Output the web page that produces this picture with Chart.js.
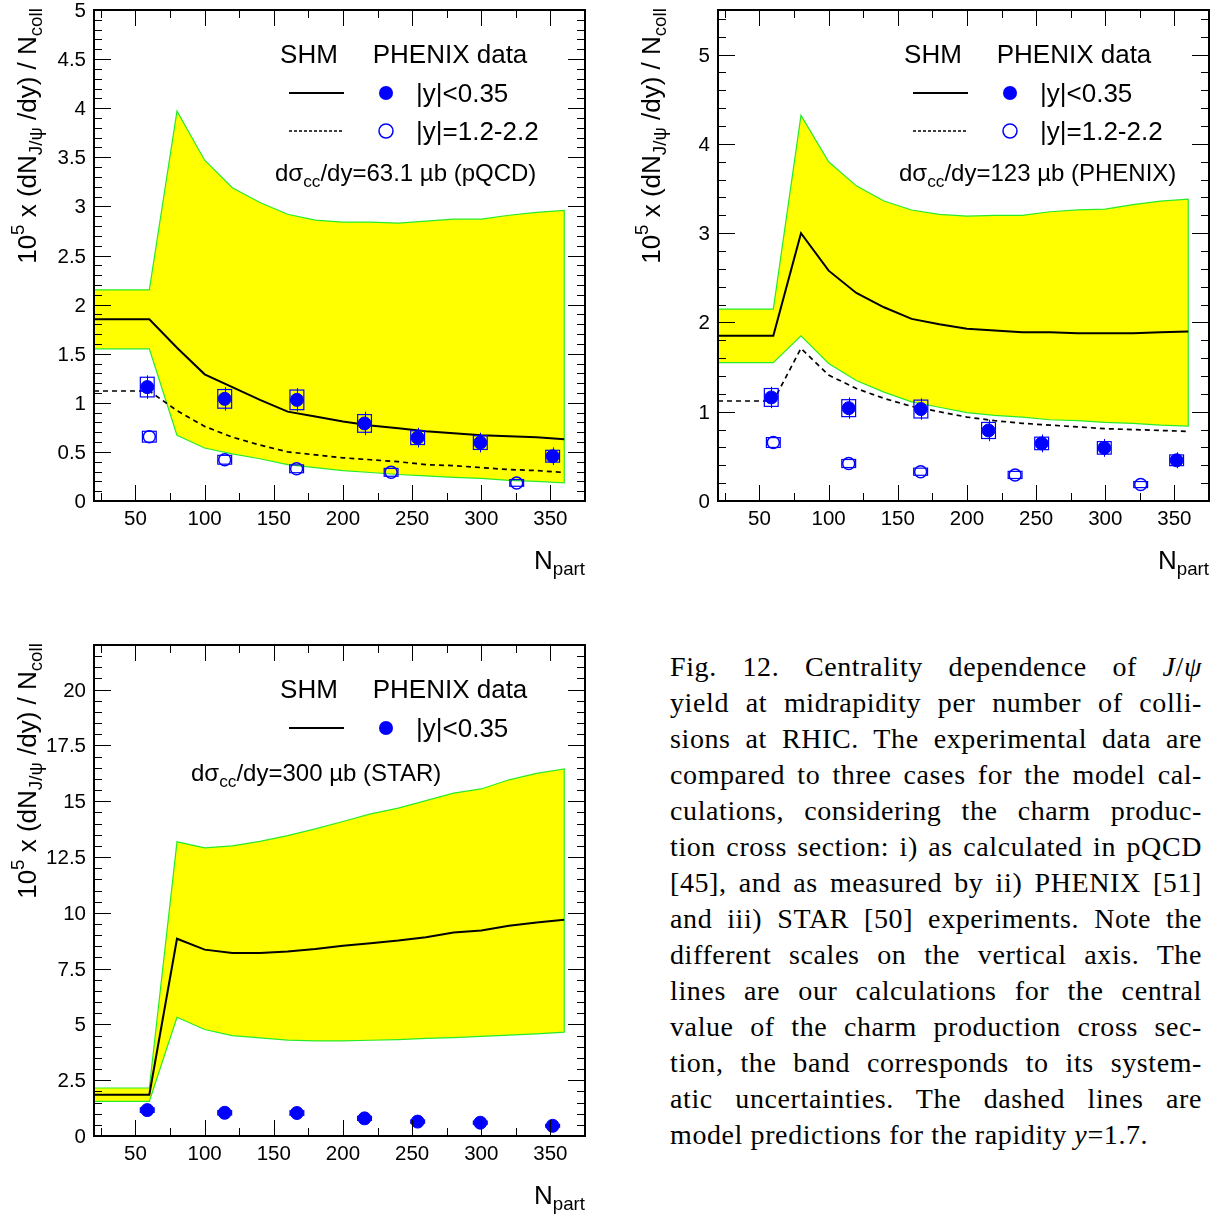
<!DOCTYPE html>
<html>
<head>
<meta charset="utf-8">
<script src="https://cdn.jsdelivr.net/npm/chart.js@4.4.1/dist/chart.umd.min.js"></script>
<style>
  body { margin: 0; background: #fff; width: 1229px; height: 1220px; position: relative; overflow: hidden; }
  canvas.panel { position: absolute; }
  #caption { position: absolute; left: 670px; top: 649px; width: 532px; font-family: "Liberation Serif", serif; font-size: 28px; line-height: 36px; letter-spacing: 0.6px; color: #000; }
  #caption .ln { text-align: justify; text-align-last: justify; white-space: nowrap; }
  #caption .last { text-align-last: left; }
</style>
</head>
<body>
<canvas id="c1" class="panel" width="600" height="600" style="left:0;top:0"></canvas>
<canvas id="c2" class="panel" width="605" height="600" style="left:624px;top:0"></canvas>
<canvas id="c3" class="panel" width="600" height="600" style="left:0;top:635px"></canvas>
<div id="caption">
  <div class="ln">Fig. 12. Centrality dependence of <i>J</i>/<i>ψ</i></div>
  <div class="ln">yield at midrapidity per number of colli-</div>
  <div class="ln">sions at RHIC. The experimental data are</div>
  <div class="ln">compared to three cases for the model cal-</div>
  <div class="ln">culations, considering the charm produc-</div>
  <div class="ln">tion cross section: i) as calculated in pQCD</div>
  <div class="ln">[45], and as measured by ii) PHENIX [51]</div>
  <div class="ln">and iii) STAR [50] experiments. Note the</div>
  <div class="ln">different scales on the vertical axis. The</div>
  <div class="ln">lines are our calculations for the central</div>
  <div class="ln">value of the charm production cross sec-</div>
  <div class="ln">tion, the band corresponds to its system-</div>
  <div class="ln">atic uncertainties. The dashed lines are</div>
  <div class="ln last">model predictions for the rapidity <i>y</i>=1.7.</div>
</div>
<script>
// model curves (SHM), x = Npart
const nPartModel = [20, 60, 80, 100, 120, 140, 160, 180, 200, 220, 240, 260, 280, 300, 320, 340, 360];

// dsigma_cc/dy = 63.1 mub (pQCD)
const pqcdUpper = [2.15, 2.15, 3.97, 3.47, 3.19, 3.04, 2.92, 2.86, 2.84, 2.84, 2.83, 2.85, 2.87, 2.87, 2.91, 2.94, 2.96];
const pqcdLower = [1.55, 1.55, 0.67, 0.54, 0.48, 0.43, 0.37, 0.34, 0.31, 0.29, 0.27, 0.255, 0.24, 0.23, 0.21, 0.2, 0.185];
const pqcdMid = [1.85, 1.85, 1.56, 1.29, 1.16, 1.03, 0.91, 0.86, 0.81, 0.77, 0.74, 0.71, 0.69, 0.67, 0.66, 0.65, 0.63];
const pqcdFwd = [1.12, 1.12, 0.92, 0.76, 0.65, 0.57, 0.5, 0.47, 0.44, 0.42, 0.4, 0.37, 0.36, 0.34, 0.32, 0.31, 0.29];

// dsigma_cc/dy = 123 mub (PHENIX)
const phenixUpper = [2.15, 2.15, 4.32, 3.8, 3.53, 3.36, 3.26, 3.21, 3.19, 3.2, 3.2, 3.24, 3.26, 3.27, 3.32, 3.36, 3.38];
const phenixLower = [1.55, 1.55, 1.85, 1.54, 1.35, 1.22, 1.11, 1.05, 0.99, 0.96, 0.94, 0.91, 0.9, 0.88, 0.87, 0.85, 0.84];
const phenixMid = [1.85, 1.85, 3.0, 2.58, 2.33, 2.17, 2.04, 1.98, 1.93, 1.91, 1.89, 1.89, 1.88, 1.88, 1.88, 1.89, 1.9];
const phenixFwd = [1.12, 1.12, 1.71, 1.41, 1.26, 1.15, 1.06, 1.0, 0.94, 0.9, 0.87, 0.85, 0.83, 0.81, 0.8, 0.79, 0.78];

// dsigma_cc/dy = 300 mub (STAR)
const starUpper = [2.15, 2.15, 13.18, 12.91, 13.0, 13.2, 13.46, 13.76, 14.09, 14.43, 14.69, 15.03, 15.36, 15.55, 15.96, 16.25, 16.45];
const starLower = [1.55, 1.55, 5.32, 4.77, 4.5, 4.4, 4.3, 4.26, 4.26, 4.29, 4.32, 4.37, 4.41, 4.46, 4.52, 4.58, 4.65];
const starMid = [1.85, 1.85, 8.84, 8.35, 8.2, 8.2, 8.27, 8.38, 8.52, 8.64, 8.76, 8.91, 9.12, 9.21, 9.42, 9.57, 9.69];

// PHENIX data, |y|<0.35
const dataMidX = [58.5, 114.5, 166.7, 215.6, 254.0, 299.3, 351.6];
const dataMidY = [1.16, 1.04, 1.03, 0.79, 0.645, 0.595, 0.456];
const dataMidStat = [0.12, 0.12, 0.12, 0.12, 0.10, 0.10, 0.09];
const dataMidSys = [0.10, 0.095, 0.10, 0.09, 0.07, 0.07, 0.06];

// PHENIX data, |y|=1.2-2.2
const dataFwdX = [60, 114.5, 166.5, 234.8, 325.6];
const dataFwdY = [0.655, 0.42, 0.328, 0.292, 0.184];
const dataFwdSys = [0.055, 0.045, 0.04, 0.04, 0.034];

// tick labels
const xTickLabels = [50, 100, 150, 200, 250, 300, 350];
const yTicks1 = [0, 0.5, 1, 1.5, 2, 2.5, 3, 3.5, 4, 4.5, 5];
const yTicks2 = [0, 1, 2, 3, 4, 5];
const yTicks3 = [0, 2.5, 5, 7.5, 10, 12.5, 15, 17.5, 20];

const BLUE = "rgb(0,0,255)";
const FONT = '"Liberation Sans", Arial, sans-serif';

function pts(xs, ys) {
  return xs.map((x, i) => ({ x: x, y: ys[i] }));
}

// closed band: upper edge left->right, lower edge back right->left
function bandPts(xs, up, lo) {
  const a = pts(xs, up);
  const b = pts(xs, lo).reverse();
  return a.concat(b);
}

function richText(ctx, parts, x, y, size, align) {
  const segs = parts.map(p => {
    const s = p[1] === "n" ? size : size * 0.72;
    ctx.font = s + "px " + FONT;
    return { t: p[0], k: p[1], s: s, w: ctx.measureText(p[0]).width };
  });
  const total = segs.reduce((acc, g) => acc + g.w, 0);
  let cx = x;
  if (align === "center") cx = x - total / 2;
  if (align === "right") cx = x - total;
  ctx.textAlign = "left";
  ctx.textBaseline = "alphabetic";
  for (const g of segs) {
    ctx.font = g.s + "px " + FONT;
    let dy = 0;
    if (g.k === "sub") dy = size * 0.24;
    if (g.k === "sup") dy = -size * 0.45;
    ctx.fillText(g.t, cx, y + dy);
    cx += g.w;
  }
}

// error boxes (systematic) and error bars (statistical)
const errorPlugin = {
  id: "errors",
  afterDatasetsDraw(chart) {
    const ctx = chart.ctx;
    const a = chart.chartArea;
    const sx = chart.scales.x, sy = chart.scales.y;
    ctx.save();
    ctx.beginPath();
    ctx.rect(a.left, a.top, a.right - a.left, a.bottom - a.top);
    ctx.clip();
    chart.data.datasets.forEach(ds => {
      if (!ds.errSys) return;
      ds.data.forEach((p, i) => {
        const x0 = sx.getPixelForValue(p.x - 5), x1 = sx.getPixelForValue(p.x + 5);
        const y0 = sy.getPixelForValue(p.y + ds.errSys[i]), y1 = sy.getPixelForValue(p.y - ds.errSys[i]);
        ctx.strokeStyle = BLUE;
        ctx.lineWidth = 1.2;
        ctx.strokeRect(x0, y0, x1 - x0, y1 - y0);
        if (ds.errStat) {
          const px = Math.round(sx.getPixelForValue(p.x)) + 0.5;
          ctx.lineWidth = 1;
          ctx.beginPath();
          ctx.moveTo(px, sy.getPixelForValue(p.y + ds.errStat[i]));
          ctx.lineTo(px, sy.getPixelForValue(p.y - ds.errStat[i]));
          ctx.stroke();
        }
      });
    });
    ctx.restore();
  }
};

// ROOT-like frame with inside ticks, tick labels, axis titles and legend
const framePlugin = {
  id: "rootFrame",
  afterDraw(chart) {
    const o = chart.options.plugins.rootFrame;
    const ctx = chart.ctx;
    const a = chart.chartArea;
    const sx = chart.scales.x, sy = chart.scales.y;
    ctx.save();
    ctx.strokeStyle = "#000";
    ctx.fillStyle = "#000";
    ctx.lineWidth = 1;
    ctx.beginPath();
    for (let i = 0; ; i++) {
      const v = Math.ceil(sx.min / o.xMinor) * o.xMinor + i * o.xMinor;
      if (v > sx.max + 1e-9) break;
      const px = Math.round(sx.getPixelForValue(v)) + 0.5;
      const major = Math.abs(v / o.xMajor - Math.round(v / o.xMajor)) < 1e-6;
      const len = major ? 16 : 8;
      ctx.moveTo(px, a.bottom); ctx.lineTo(px, a.bottom - len);
      ctx.moveTo(px, a.top); ctx.lineTo(px, a.top + len);
    }
    for (let i = 0; ; i++) {
      const v = i * o.yMinor;
      if (v > sy.max + 1e-9) break;
      const py = Math.round(sy.getPixelForValue(v)) + 0.5;
      const major = Math.abs(v / o.yMajor - Math.round(v / o.yMajor)) < 1e-6;
      const len = major ? 17 : 8;
      ctx.moveTo(a.left, py); ctx.lineTo(a.left + len, py);
      ctx.moveTo(a.right, py); ctx.lineTo(a.right - len, py);
    }
    ctx.stroke();
    ctx.lineWidth = 2;
    ctx.strokeRect(a.left, a.top, a.right - a.left, a.bottom - a.top);

    // tick labels
    ctx.font = "20.5px " + FONT;
    ctx.textAlign = "center";
    ctx.textBaseline = "alphabetic";
    xTickLabels.forEach(v => ctx.fillText(String(v), sx.getPixelForValue(v), a.bottom + 24));
    ctx.textAlign = "right";
    o.yLabels.forEach(v => ctx.fillText(String(v), a.left - 8, sy.getPixelForValue(v) + 7));

    // axis titles
    richText(ctx, [["N", "n"], ["part", "sub"]], a.right, a.bottom + 68, 26, "right");
    ctx.save();
    ctx.translate(36, a.top + 126);
    ctx.rotate(-Math.PI / 2);
    richText(ctx, [["10", "n"], ["5", "sup"], [" x (dN", "n"], ["J/\u03c8", "sub"], [" /dy) / N", "n"], ["coll", "sub"]], 0, 0, 26, "center");
    ctx.restore();

    // legend
    const L = a.left, T = a.top;
    ctx.fillStyle = "#000";
    richText(ctx, [["SHM", "n"]], L + 215, T + 44 + 9, 26, "center");
    richText(ctx, [["PHENIX data", "n"]], L + 356, T + 44 + 9, 26, "center");
    ctx.strokeStyle = "#000";
    ctx.lineWidth = 2;
    ctx.beginPath();
    ctx.moveTo(L + 195, T + 83); ctx.lineTo(L + 250, T + 83);
    ctx.stroke();
    ctx.fillStyle = BLUE;
    ctx.beginPath();
    ctx.arc(L + 292, T + 83, 7, 0, Math.PI * 2);
    ctx.fill();
    ctx.fillStyle = "#000";
    richText(ctx, [["|y|<0.35", "n"]], L + 322, T + 83 + 9, 26, "left");
    if (o.fwd) {
      ctx.setLineDash([3, 2]);
      ctx.lineWidth = 1.5;
      ctx.beginPath();
      ctx.moveTo(L + 195, T + 121); ctx.lineTo(L + 250, T + 121);
      ctx.stroke();
      ctx.setLineDash([]);
      ctx.strokeStyle = BLUE;
      ctx.beginPath();
      ctx.arc(L + 292, T + 121, 7, 0, Math.PI * 2);
      ctx.stroke();
      richText(ctx, [["|y|=1.2-2.2", "n"]], L + 322, T + 121 + 9, 26, "left");
    }
    richText(ctx, [["d\u03c3", "n"], ["cc", "sub"], [o.sigma, "n"]], L + o.sigmaX, T + o.sigmaY + 8, 24, "left");
    ctx.restore();
  }
};

function makePanel(id, cfg) {
  const datasets = [
    {
      type: "scatter", data: pts(dataMidX, dataMidY), order: 0,
      pointRadius: 6.5, pointBackgroundColor: BLUE, pointBorderColor: BLUE, pointBorderWidth: 1,
      errStat: dataMidStat, errSys: dataMidSys
    },
    {
      type: "line", data: pts(nPartModel, cfg.mid), order: 2,
      borderColor: "#000", borderWidth: 2, pointRadius: 0, fill: false, tension: 0
    },
    {
      type: "line", data: bandPts(nPartModel, cfg.upper, cfg.lower), order: 5,
      borderColor: "rgb(40,235,40)", borderWidth: 1.2, backgroundColor: "rgb(255,255,0)",
      pointRadius: 0, fill: "shape", tension: 0
    }
  ];
  if (cfg.fwd) {
    datasets.push({
      type: "scatter", data: pts(dataFwdX, dataFwdY), order: 1,
      pointRadius: 6, pointBackgroundColor: "rgba(0,0,0,0)", pointBorderColor: BLUE, pointBorderWidth: 1.5,
      errSys: dataFwdSys
    });
    datasets.push({
      type: "line", data: pts(nPartModel, cfg.fwd), order: 3,
      borderColor: "#000", borderWidth: 1.7, borderDash: [5, 4], pointRadius: 0, fill: false, tension: 0
    });
  }
  new Chart(document.getElementById(id), {
    type: "scatter",
    data: { datasets: datasets },
    options: {
      responsive: false,
      animation: false,
      devicePixelRatio: 1,
      events: [],
      layout: { padding: { left: 94, top: 10, right: cfg.padRight, bottom: 99 } },
      scales: {
        x: { type: "linear", min: 20, max: 375, display: false },
        y: { type: "linear", min: 0, max: cfg.yMax, display: false }
      },
      plugins: {
        legend: { display: false },
        tooltip: { enabled: false },
        rootFrame: {
          xMajor: 50, xMinor: 25, yMajor: cfg.yMajor, yMinor: cfg.yMinor, yLabels: cfg.yLabels,
          fwd: !!cfg.fwd, sigma: cfg.sigma, sigmaX: cfg.sigmaX, sigmaY: cfg.sigmaY
        }
      }
    },
    plugins: [errorPlugin, framePlugin]
  });
}

makePanel("c1", {
  upper: pqcdUpper, lower: pqcdLower, mid: pqcdMid, fwd: pqcdFwd,
  yMax: 5, yMajor: 0.5, yMinor: 0.1, yLabels: yTicks1, padRight: 15,
  sigma: "/dy=63.1 \u00b5b (pQCD)", sigmaX: 181, sigmaY: 163
});
makePanel("c2", {
  upper: phenixUpper, lower: phenixLower, mid: phenixMid, fwd: phenixFwd,
  yMax: 5.5, yMajor: 1, yMinor: 0.2, yLabels: yTicks2, padRight: 20,
  sigma: "/dy=123 \u00b5b (PHENIX)", sigmaX: 181, sigmaY: 163
});
makePanel("c3", {
  upper: starUpper, lower: starLower, mid: starMid, fwd: null,
  yMax: 22, yMajor: 2.5, yMinor: 0.5, yLabels: yTicks3, padRight: 15,
  sigma: "/dy=300 \u00b5b (STAR)", sigmaX: 97, sigmaY: 128
});
</script>
</body>
</html>
